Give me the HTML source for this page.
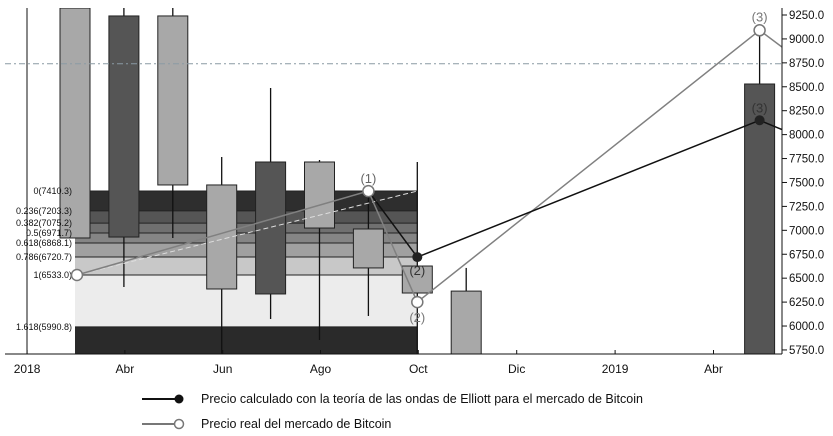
<!DOCTYPE html>
<html><head><meta charset="utf-8"><style>
body{margin:0;background:#fff;}
svg{display:block;font-family:"Liberation Sans",sans-serif;}
</style></head><body>
<svg id="chart" width="833" height="436">
<defs><clipPath id="plotclip"><rect x="0" y="8" width="782" height="346"/></clipPath></defs>
<g id="bands"></g>
<g id="candles" clip-path="url(#plotclip)"></g>
<g id="fiblabels"></g>
<g id="overlay" clip-path="url(#plotclip)"></g>
<g id="axes"></g>
<g id="legend"></g>
</svg>
<script>
// ---- data ----
const yTicks = [9250,9000,8750,8500,8250,8000,7750,7500,7250,7000,6750,6500,6250,6000,5750];
const xLabels = ["2018","Abr","Jun","Ago","Oct","Dic","2019","Abr"];
const xLabelPos = [-1,1,3,5,7,9,11,13]; // in candle-index units
const candleIdx = [0,1,2,3,4,5,6,7,8,14];
const opens  = [6920,9240,7474,7474,7714,7024,6607,6627,6365,5700];
const closes = [9323,6930,9240,6387,6335,7714,7014,6345,5700,8529];
const highs  = [9400,9330,9330,7766,8487,7735,7390,7714,6607,9093];
const lows   = [6920,6408,6920,5700,6073,5854,6105,5700,5700,5700];
const candleDark = [false,true,false,false,true,false,false,false,false,true];
const fibNames = ["0","0.236","0.382","0.5","0.618","0.786","1","1.618"];
const fibValues = [7410.3,7203.3,7075.2,6971.7,6868.1,6720.7,6533.0,5990.8];
const elliottIdx = [6,7,14,14.47];
const elliottVals = [7410,6720,8150,8050];
const realIdx = [0.04,6,7,14,14.47];
const realVals = [6533,7410,6250,9090,8910];
const refLine = 8740;

// ---- scales ----
const NS="http://www.w3.org/2000/svg";
const X = i => 75 + 48.9*i;
const Y = v => 15 + (9250 - v)*0.0957;
function mk(parent, tag, attrs, name){
  const el=document.createElementNS(NS,tag);
  for(const k in attrs) el.setAttribute(k,attrs[k]);
  
  
  document.getElementById(parent).appendChild(el); return el;
}
// fib bands
const bandCols=['#2e2e2e','#555','#707070','#858585','#a0a0a0','#c8c8c8','#ececec','#2a2a2a'];
fibValues.forEach((v,k)=>{
  const y1=Y(v), y2 = k<fibValues.length-1?Y(fibValues[k+1]):354;
  mk('bands','rect',{x:X(0),y:y1,width:X(7)-X(0),height:y2-y1,fill:bandCols[k]},'fib-band');
  mk('bands','line',{x1:X(0),x2:X(7),y1:y1,y2:y1,stroke:'#222','stroke-width':1},'fib-level-line');
  const t=mk('fiblabels','text',{x:X(0)-3,y:y1+3,'text-anchor':'end','font-size':9,fill:'#111'},'fib-label');
  t.textContent=fibNames[k]+'('+v.toFixed(1)+')';
});
// candles
candleIdx.forEach((ci,k)=>{
  const cx=X(ci);
  mk('candles','line',{x1:cx,x2:cx,y1:Y(highs[k]),y2:Y(lows[k]),stroke:'#111','stroke-width':1.3},'candle-wick');
  const t=Y(Math.max(opens[k],closes[k])), b=Y(Math.min(opens[k],closes[k]));
  mk('candles','rect',{x:cx-15,y:t,width:30,height:b-t,fill:candleDark[k]?'#555':'#a8a8a8',stroke:'#222','stroke-width':1},'candle-body');
});
// overlay
mk('overlay','line',{x1:5,x2:782,y1:Y(refLine),y2:Y(refLine),stroke:'#8a9aa4','stroke-dasharray':'6,3,2,3'},'reference-line');
mk('overlay','line',{x1:X(realIdx[0]),y1:Y(realVals[0]),x2:X(7),y2:Y(fibValues[0]),stroke:'#ddd','stroke-dasharray':'5,3'},'trend-dashed-line');
function series(idx,vals,color,name){
  mk('overlay','polyline',{points:idx.map((i,k)=>X(i)+','+Y(vals[k])).join(' '),fill:'none',stroke:color,'stroke-width':1.5},name);
}
series(realIdx,realVals,'#808080','real-price-line');
series(elliottIdx,elliottVals,'#111','elliott-price-line');
[0,1,2,3].forEach(k=>mk('overlay','circle',{cx:X(realIdx[k]),cy:Y(realVals[k]),r:5.5,fill:'#fff',stroke:'#777','stroke-width':1.5},'real-price-point'));
[1,2].forEach(k=>mk('overlay','circle',{cx:X(elliottIdx[k]),cy:Y(elliottVals[k]),r:5,fill:'#222'},'elliott-price-point'));
const wl=[[X(6),Y(7410)-8,'(1)','#666'],[X(7),Y(6720)+18,'(2)','#333'],[X(7),Y(6250)+20,'(2)','#777'],[X(14),Y(9090)-9,'(3)','#777'],[X(14),Y(8150)-8,'(3)','#333']];
wl.forEach(w=>{const t=mk('overlay','text',{x:w[0],y:w[1],'text-anchor':'middle','font-size':13,fill:w[3]},'wave-label');t.textContent=w[2];});
// axes
mk('axes','line',{x1:5,x2:782,y1:354,y2:354,stroke:'#111'},'x-axis');
mk('axes','line',{x1:27,x2:27,y1:8,y2:354,stroke:'#111'},'left-axis-line');
mk('axes','line',{x1:782,x2:782,y1:8,y2:354,stroke:'#111'},'y-axis');
yTicks.forEach(v=>{
  mk('axes','line',{x1:782,x2:787,y1:Y(v),y2:Y(v),stroke:'#111'},'y-tick');
  const t=mk('axes','text',{x:789,y:Y(v)+4,'font-size':11.5,fill:'#111'},'y-tick-label');t.textContent=v.toFixed(1);
});
xLabels.forEach((l,k)=>{
  const x=X(xLabelPos[k])+1+ (k>=5?(k-4)*0.6:0);
  mk('axes','line',{x1:x,x2:x,y1:350,y2:354,stroke:'#111'},'x-tick');
  const t=mk('axes','text',{x:x,y:373,'text-anchor':'middle','font-size':12,fill:'#111'},'x-tick-label');t.textContent=l;
});
// legend
mk('legend','line',{x1:142,x2:178,y1:399,y2:399,stroke:'#111','stroke-width':2},'legend-elliott-line');
mk('legend','circle',{cx:179,cy:399,r:4.5,fill:'#111'},'legend-elliott-marker');
let t=mk('legend','text',{x:201,y:403,'font-size':12.5,fill:'#111'},'legend-elliott-label');t.textContent='Precio calculado con la teoría de las ondas de Elliott para el mercado de Bitcoin';
mk('legend','line',{x1:142,x2:174,y1:424,y2:424,stroke:'#777','stroke-width':2},'legend-real-line');
mk('legend','circle',{cx:179,cy:424,r:4.5,fill:'#fff',stroke:'#777','stroke-width':1.5},'legend-real-marker');
t=mk('legend','text',{x:201,y:428,'font-size':12.5,fill:'#111'},'legend-real-label');t.textContent='Precio real del mercado de Bitcoin';
</script>
</body></html>
